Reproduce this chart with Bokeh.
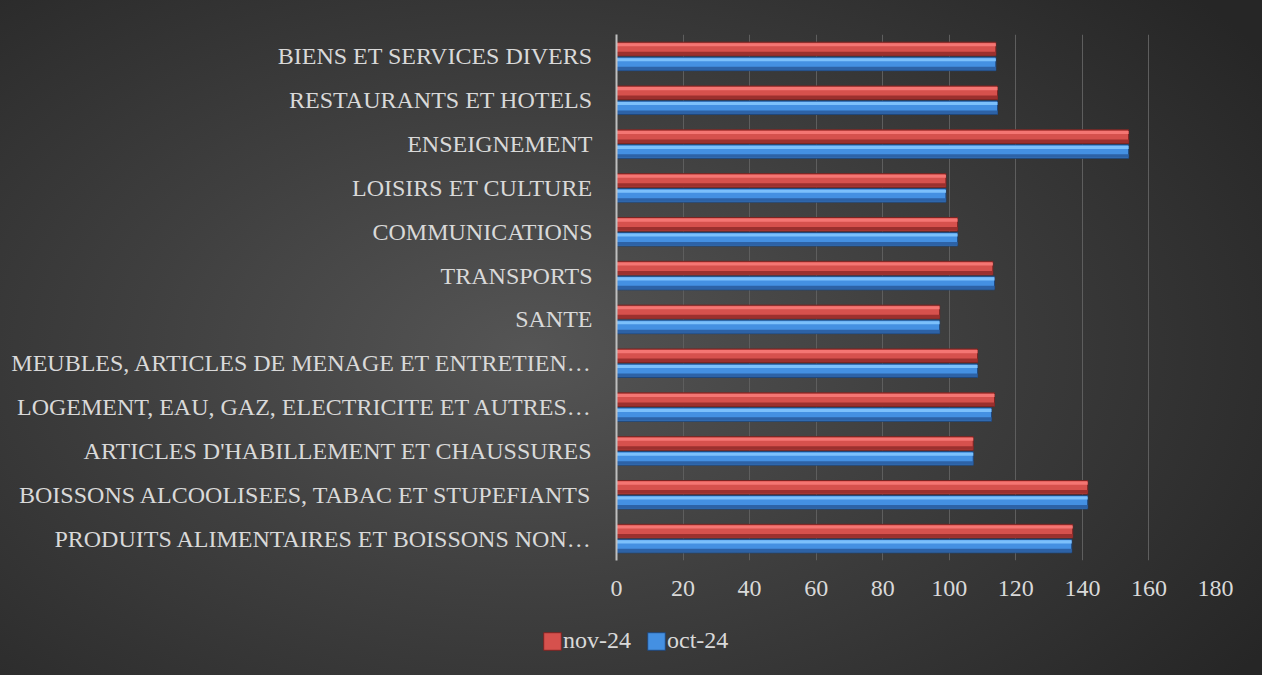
from bokeh.plotting import figure
from bokeh.layouts import column
from bokeh.models import FactorRange, Range1d, FixedTicker, Legend, LegendItem, ColumnDataSource
from bokeh.transform import dodge
from bokeh.embed import file_html
from bokeh.resources import INLINE

# Categories listed from bottom to top
categories = [
    "PRODUITS ALIMENTAIRES ET BOISSONS NON…",
    "BOISSONS ALCOOLISEES, TABAC ET STUPEFIANTS",
    "ARTICLES D'HABILLEMENT ET CHAUSSURES",
    "LOGEMENT, EAU, GAZ, ELECTRICITE ET AUTRES…",
    "MEUBLES, ARTICLES DE MENAGE ET ENTRETIEN…",
    "SANTE",
    "TRANSPORTS",
    "COMMUNICATIONS",
    "LOISIRS ET CULTURE",
    "ENSEIGNEMENT",
    "RESTAURANTS ET HOTELS",
    "BIENS ET SERVICES DIVERS",
]
nov_24 = [137.1, 141.6, 107.2, 113.6, 108.5, 97.1, 113.1, 102.5, 99.0, 153.9, 114.5, 114.0]
oct_24 = [136.8, 141.6, 107.2, 112.7, 108.5, 97.1, 113.6, 102.5, 99.0, 153.9, 114.5, 114.0]
x_ticks = [0, 20, 40, 60, 80, 100, 120, 140, 160, 180]
series_names = ["nov-24", "oct-24"]

src = ColumnDataSource(dict(cat=categories, nov=nov_24, oct=oct_24))

FONT = "Liberation Serif"
TXT = "#d9d9d9"
FS = "24px"

RED = ("#d6514d", "#f47673", "#9b302e", "#7a2422")
BLUE = ("#4490e2", "#7cc0fb", "#2d62a6", "#20477a")

p = figure(
    width=1262, height=620,
    y_range=FactorRange(factors=categories),
    x_range=Range1d(x_ticks[0], x_ticks[-1]),
    output_backend="svg", toolbar_location=None,
    min_border_left=616, min_border_right=47,
    min_border_top=34, min_border_bottom=60,
)
p.background_fill_alpha = 0
p.border_fill_alpha = 0
p.outline_line_color = None
p.frame_align = False

BH = 0.31
OFF = 0.17

def bevel_bar(field, sign, colors):
    mid, light, dark, edge = colors
    c = sign * OFF
    base = p.hbar(y=dodge("cat", c, range=p.y_range), left=0, right=field, height=BH,
                  source=src, fill_color=mid, line_color=edge, line_width=1)
    top = c + BH / 2 - 0.025 - 0.035
    p.hbar(y=dodge("cat", top, range=p.y_range), left=0, right=field, height=0.07,
           source=src, fill_color=light, line_color=None)
    bot = c - BH / 2 + 0.012 + 0.04
    p.hbar(y=dodge("cat", bot, range=p.y_range), left=0, right=field, height=0.08,
           source=src, fill_color=dark, line_color=None)
    return base

bevel_bar("nov", 1, RED)
bevel_bar("oct", -1, BLUE)

p.xaxis.ticker = FixedTicker(ticks=x_ticks)
p.xaxis.axis_line_color = None
p.xaxis.major_tick_line_color = None
p.xaxis.minor_tick_line_color = None
p.xaxis.major_label_text_font = FONT
p.xaxis.major_label_text_font_size = FS
p.xaxis.major_label_text_color = TXT
p.xaxis.major_label_standoff = 14

p.yaxis.axis_line_color = "#bfbfbf"
p.yaxis.axis_line_width = 2
p.yaxis.major_tick_line_color = None
p.yaxis.minor_tick_line_color = None
p.yaxis.major_label_text_font = FONT
p.yaxis.major_label_text_font_size = FS
p.yaxis.major_label_text_color = TXT
p.yaxis.major_label_standoff = 18

p.xgrid.grid_line_color = "#5e5e5e"
p.xgrid.grid_line_width = 1
p.xgrid.ticker = FixedTicker(ticks=x_ticks)
p.ygrid.grid_line_color = None

# Legend strip below the chart
q = figure(
    width=1262, height=55, x_range=Range1d(0, 1), y_range=Range1d(0, 1),
    output_backend="svg", toolbar_location=None,
    x_axis_location=None, y_axis_location=None,
    min_border_left=0, min_border_right=0, min_border_top=0, min_border_bottom=0,
)
q.frame_align = False
q.background_fill_alpha = 0
q.border_fill_alpha = 0
q.outline_line_color = None
q.grid.visible = False
# legend-only renderers, their (dummy) data lies outside the visible ranges
lr_nov = q.hbar(y=[-5], left=[-3], right=[-2], height=0.5, fill_color=RED[0], line_color=RED[3])
lr_oct = q.hbar(y=[-5], left=[-3], right=[-2], height=0.5, fill_color=BLUE[0], line_color=BLUE[3])

legend = Legend(
    items=[LegendItem(label=series_names[0], renderers=[lr_nov]),
           LegendItem(label=series_names[1], renderers=[lr_oct])],
    orientation="horizontal", location=(541, 21), margin=0, padding=2,
    spacing=14, label_standoff=0, glyph_width=22, glyph_height=22,
    label_height=22,
    label_text_font=FONT, label_text_font_size=FS, label_text_color=TXT,
    background_fill_alpha=0, border_line_color=None,
)
q.add_layout(legend, "center")

layout = column(p, q, spacing=0,
                styles={"background": "radial-gradient(ellipse 70% 80% at 42% 52%, #555555 0%, #3f3f3f 45%, #262626 100%)"})

open("out.html", "w").write(file_html(layout, INLINE))
